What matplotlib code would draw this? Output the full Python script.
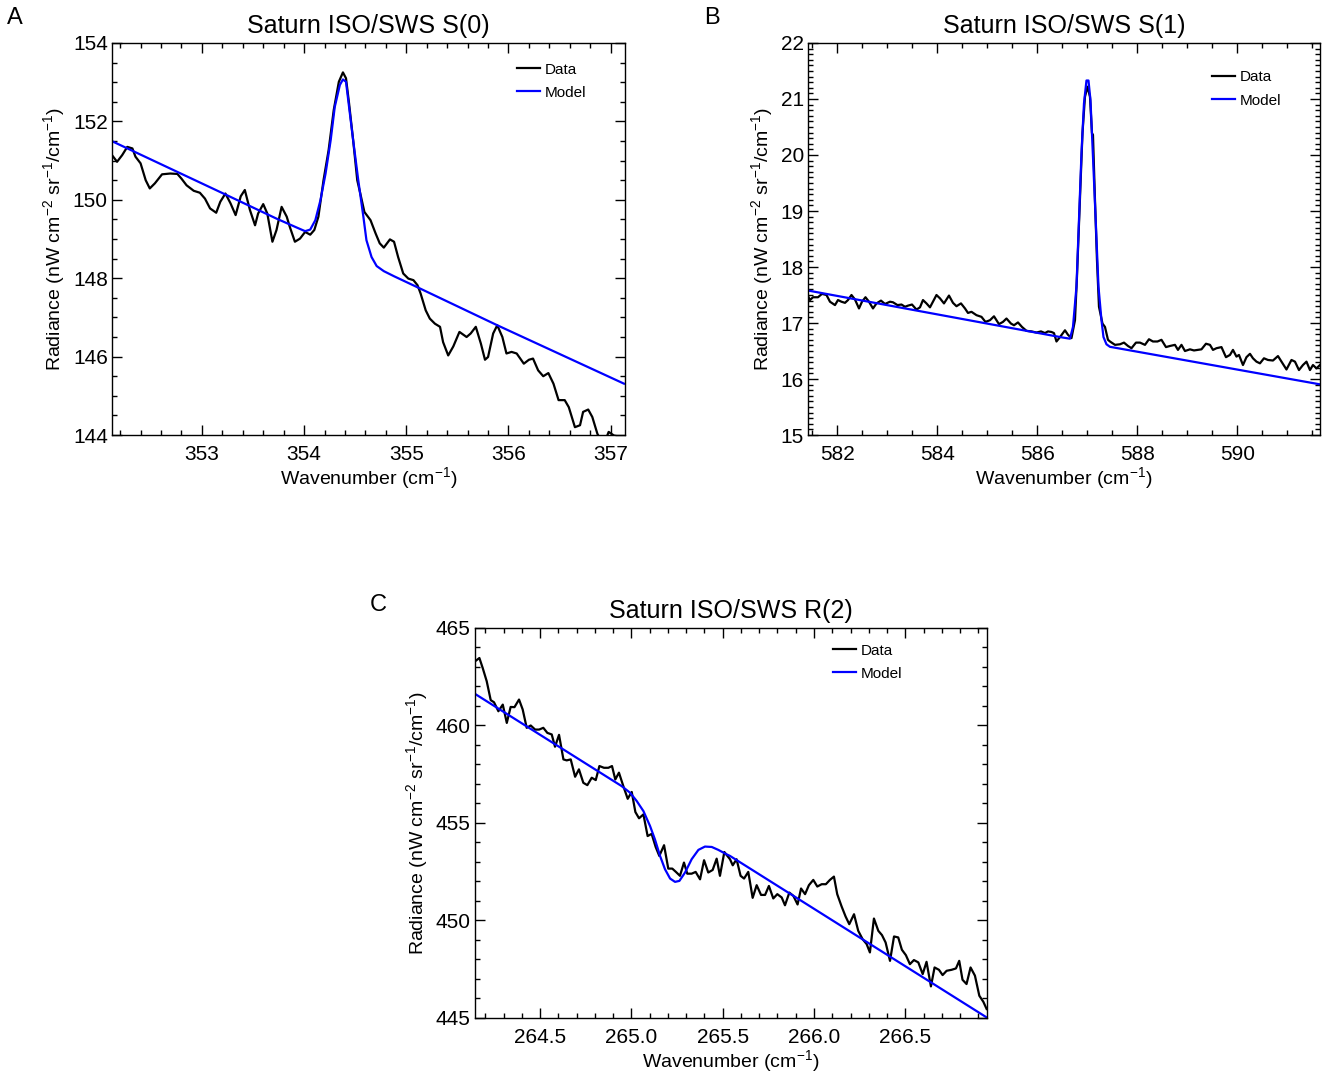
import matplotlib
matplotlib.use("Agg")
import matplotlib.pyplot as plt
from matplotlib.ticker import MultipleLocator, FormatStrFormatter

plt.rcParams['font.family'] = ['Liberation Sans', 'DejaVu Sans']
plt.rcParams['mathtext.fontset'] = 'custom'
plt.rcParams['mathtext.rm'] = 'Liberation Sans'
plt.rcParams['mathtext.it'] = 'Liberation Sans:italic'
plt.rcParams['mathtext.bf'] = 'Liberation Sans:bold'

# ---- Panel A: S(0) ----
a_data_x = [352.12, 352.17, 352.22, 352.27, 352.32, 352.35, 352.40, 352.45, 352.49, 352.54,
            352.61, 352.69, 352.76, 352.80, 352.85, 352.92, 352.98, 353.03, 353.08, 353.14,
            353.18, 353.23, 353.28, 353.33, 353.38, 353.42, 353.47, 353.52, 353.55, 353.60,
            353.64, 353.69, 353.73, 353.78, 353.83, 353.86, 353.91, 353.96, 354.01, 354.06,
            354.10, 354.14, 354.19, 354.24, 354.29, 354.34, 354.38, 354.41, 354.44, 354.48,
            354.52, 354.55, 354.59, 354.65, 354.70, 354.74, 354.78, 354.84, 354.88, 354.92,
            354.97, 355.02, 355.07, 355.11, 355.14, 355.19, 355.23, 355.28, 355.33, 355.36,
            355.41, 355.46, 355.52, 355.59, 355.63, 355.68, 355.73, 355.77, 355.80, 355.85,
            355.89, 355.94, 355.98, 356.03, 356.08, 356.15, 356.20, 356.24, 356.29, 356.34,
            356.39, 356.44, 356.49, 356.55, 356.59, 356.65, 356.70, 356.73, 356.78, 356.82,
            356.87, 356.93, 356.98, 357.03, 357.09, 357.14]
a_data_y = [151.14, 150.97, 151.14, 151.35, 151.31, 151.10, 150.93, 150.50, 150.29, 150.42,
            150.65, 150.67, 150.66, 150.54, 150.37, 150.23, 150.18, 150.03, 149.78, 149.67,
            149.95, 150.16, 149.91, 149.61, 150.09, 150.25, 149.74, 149.35, 149.65, 149.89,
            149.65, 148.93, 149.23, 149.82, 149.57, 149.31, 148.93, 149.01, 149.18, 149.11,
            149.23, 149.57, 150.50, 151.27, 152.29, 153.01, 153.25, 153.10, 152.46, 151.52,
            150.50, 150.16, 149.69, 149.48, 149.14, 148.89, 148.78, 148.99, 148.93, 148.54,
            148.12, 147.99, 147.95, 147.82, 147.61, 147.18, 146.97, 146.84, 146.76, 146.37,
            146.03, 146.26, 146.63, 146.50, 146.59, 146.76, 146.33, 145.92, 145.99, 146.59,
            146.80, 146.50, 146.08, 146.12, 146.08, 145.82, 145.92, 145.95, 145.65, 145.50,
            145.58, 145.31, 144.89, 144.89, 144.71, 144.20, 144.25, 144.59, 144.65, 144.46,
            144.03, 143.74, 144.08, 143.99, 143.95, 143.91]
a_model_x = [352.10, 353.21, 353.73, 353.93, 354.01, 354.06, 354.11, 354.16, 354.21, 354.26,
             354.30, 354.35, 354.38, 354.41, 354.44, 354.48, 354.53, 354.58, 354.61, 354.66,
             354.71, 354.78, 354.88, 355.10, 355.89, 357.13]
a_model_y = [151.52, 150.16, 149.52, 149.29, 149.20, 149.24, 149.48, 149.99, 150.67, 151.52,
             152.37, 152.93, 153.07, 153.01, 152.37, 151.52, 150.50, 149.57, 148.97, 148.54,
             148.31, 148.18, 148.05, 147.78, 146.80, 145.31]

# ---- Panel B: S(1) ----
b_data_x = [581.40, 581.45, 581.51, 581.61, 581.69, 581.78, 581.85, 581.95, 582.01, 582.08,
            582.15, 582.21, 582.28, 582.35, 582.43, 582.49, 582.56, 582.63, 582.71, 582.78,
            582.87, 582.95, 583.05, 583.11, 583.20, 583.28, 583.35, 583.41, 583.49, 583.58,
            583.65, 583.71, 583.78, 583.85, 583.91, 583.98, 584.05, 584.13, 584.23, 584.31,
            584.38, 584.47, 584.55, 584.61, 584.68, 584.78, 584.88, 584.96, 585.05, 585.13,
            585.23, 585.31, 585.38, 585.47, 585.53, 585.61, 585.69, 585.78, 585.88, 585.98,
            586.07, 586.15, 586.21, 586.28, 586.33, 586.38, 586.46, 586.55, 586.61, 586.68,
            586.75, 586.79, 586.85, 586.90, 586.95, 587.00, 587.05, 587.09, 587.11, 587.15,
            587.19, 587.23, 587.30, 587.35, 587.41, 587.45, 587.55, 587.65, 587.73, 587.81,
            587.88, 587.97, 588.05, 588.15, 588.23, 588.31, 588.40, 588.48, 588.57, 588.65,
            588.75, 588.81, 588.88, 588.95, 589.05, 589.13, 589.21, 589.28, 589.37, 589.45,
            589.51, 589.58, 589.68, 589.77, 589.85, 589.91, 589.98, 590.03, 590.11, 590.18,
            590.25, 590.31, 590.38, 590.45, 590.53, 590.61, 590.71, 590.81, 590.88, 590.98,
            591.08, 591.15, 591.23, 591.31, 591.38, 591.45, 591.51, 591.58, 591.65]
b_data_y = [17.50, 17.41, 17.46, 17.46, 17.52, 17.50, 17.38, 17.32, 17.41, 17.38,
            17.36, 17.41, 17.50, 17.42, 17.26, 17.38, 17.46, 17.38, 17.26, 17.35,
            17.40, 17.34, 17.38, 17.37, 17.32, 17.33, 17.29, 17.31, 17.33, 17.24,
            17.28, 17.41, 17.35, 17.28, 17.38, 17.50, 17.44, 17.35, 17.49, 17.36,
            17.30, 17.35, 17.26, 17.18, 17.20, 17.14, 17.11, 17.02, 17.05, 17.12,
            16.98, 17.02, 17.08, 16.99, 16.96, 17.01, 16.93, 16.86, 16.85, 16.83,
            16.85, 16.82, 16.85, 16.84, 16.82, 16.67, 16.76, 16.87, 16.79, 16.73,
            17.05, 17.83, 19.20, 20.39, 21.04, 21.22, 21.04, 20.39, 20.36, 19.20,
            18.12, 17.29, 16.99, 16.93, 16.70, 16.67, 16.61, 16.62, 16.65, 16.59,
            16.55, 16.65, 16.65, 16.61, 16.71, 16.67, 16.67, 16.70, 16.57, 16.59,
            16.61, 16.52, 16.61, 16.50, 16.53, 16.51, 16.52, 16.53, 16.63, 16.61,
            16.52, 16.55, 16.57, 16.39, 16.43, 16.52, 16.40, 16.43, 16.25, 16.39,
            16.45, 16.37, 16.31, 16.28, 16.37, 16.34, 16.33, 16.41, 16.31, 16.17,
            16.34, 16.31, 16.16, 16.25, 16.31, 16.16, 16.25, 16.19, 16.25]
b_model_x = [581.35, 586.51, 586.65, 586.71, 586.78, 586.83, 586.88, 586.93, 586.98, 587.02,
             587.06, 587.11, 587.17, 587.22, 587.28, 587.32, 587.38, 587.45, 591.68]
b_model_y = [17.59, 16.74, 16.72, 16.93, 17.65, 18.84, 20.03, 20.92, 21.33, 21.33,
             20.98, 19.97, 18.72, 17.65, 17.05, 16.75, 16.62, 16.575, 15.90]

# ---- Panel C: R(2) ----
c_data_x = [264.144, 264.168, 264.186, 264.208, 264.230, 264.248, 264.272, 264.296, 264.318, 264.339,
            264.360, 264.385, 264.405, 264.427, 264.449, 264.473, 264.495, 264.518, 264.540, 264.564,
            264.582, 264.604, 264.628, 264.646, 264.668, 264.692, 264.713, 264.737, 264.759, 264.783,
            264.805, 264.825, 264.850, 264.874, 264.894, 264.912, 264.932, 264.956, 264.980, 265.002,
            265.022, 265.042, 265.066, 265.089, 265.111, 265.133, 265.153, 265.179, 265.202, 265.224,
            265.244, 265.266, 265.288, 265.306, 265.330, 265.352, 265.376, 265.398, 265.421, 265.445,
            265.467, 265.485, 265.509, 265.540, 265.555, 265.576, 265.598, 265.617, 265.640, 265.664,
            265.686, 265.710, 265.732, 265.753, 265.777, 265.799, 265.823, 265.841, 265.865, 265.887,
            265.910, 265.929, 265.951, 265.972, 265.996, 266.018, 266.042, 266.065, 266.087, 266.109,
            266.127, 266.151, 266.173, 266.193, 266.219, 266.242, 266.266, 266.288, 266.306, 266.328,
            266.352, 266.372, 266.392, 266.416, 266.438, 266.461, 266.481, 266.503, 266.525, 266.547,
            266.571, 266.595, 266.616, 266.640, 266.660, 266.684, 266.704, 266.726, 266.753, 266.777,
            266.795, 266.813, 266.835, 266.857, 266.881, 266.905, 266.927, 266.945]
c_data_y = [463.29, 463.46, 462.95, 462.27, 461.30, 461.19, 460.73, 461.07, 460.13, 460.95,
            460.94, 461.33, 460.82, 459.88, 460.00, 459.79, 459.79, 459.88, 459.62, 459.54,
            458.91, 459.52, 458.26, 458.21, 458.26, 457.37, 457.75, 457.06, 456.94, 457.32,
            457.20, 457.92, 457.83, 457.83, 457.92, 457.23, 457.58, 456.89, 456.24, 456.59,
            455.56, 455.24, 455.44, 454.33, 454.44, 453.77, 453.31, 453.86, 452.66, 452.66,
            452.49, 452.29, 452.97, 452.40, 452.40, 452.49, 452.11, 453.09, 452.46, 452.59,
            453.17, 452.29, 453.51, 453.14, 452.83, 453.14, 452.29, 452.15, 452.49, 451.16,
            451.81, 451.31, 451.31, 451.77, 451.13, 451.35, 451.18, 450.78, 451.43, 451.26,
            450.82, 451.64, 451.35, 451.81, 452.08, 451.74, 451.86, 451.86, 452.08, 452.25,
            451.35, 450.72, 450.20, 449.81, 450.32, 449.47, 449.04, 448.79, 448.36, 450.10,
            449.47, 449.25, 448.87, 447.93, 449.18, 449.13, 448.50, 448.22, 447.76, 447.97,
            447.85, 447.25, 447.88, 446.62, 447.59, 447.47, 447.20, 447.42, 447.47, 447.54,
            447.93, 446.96, 446.74, 447.59, 447.17, 446.14, 445.83, 445.46]
c_model_x = [264.144, 264.947, 264.993, 265.029, 265.066, 265.102, 265.129, 265.157, 265.184, 265.212,
             265.239, 265.263, 265.294, 265.330, 265.367, 265.403, 265.440, 265.476, 265.522, 265.540,
             266.950]
c_model_y = [461.62, 456.89, 456.55, 456.13, 455.61, 454.85, 454.16, 453.31, 452.63, 452.15,
             451.98, 452.03, 452.46, 453.14, 453.62, 453.79, 453.77, 453.62, 453.39, 453.31,
             445.00]

ylabel = r'Radiance (nW cm$^{-2}$ sr$^{-1}$/cm$^{-1}$)'
xlabel = r'Wavenumber (cm$^{-1}$)'


def draw_panel(ax, dx, dy, mx, my, title, xlim, ylim, xmaj, xmin, ymaj, ymin, leg_anchor, xfmt=None):
    ax.plot(dx, dy, color='black', lw=1.6, solid_joinstyle='round', label='Data')
    ax.plot(mx, my, color='#0000ff', lw=1.6, solid_joinstyle='round', label='Model')
    ax.set_xlim(*xlim)
    ax.set_ylim(*ylim)
    ax.xaxis.set_major_locator(MultipleLocator(xmaj))
    ax.xaxis.set_minor_locator(MultipleLocator(xmin))
    ax.yaxis.set_major_locator(MultipleLocator(ymaj))
    ax.yaxis.set_minor_locator(MultipleLocator(ymin))
    if xfmt:
        ax.xaxis.set_major_formatter(FormatStrFormatter(xfmt))
    ax.tick_params(which='both', direction='in', top=True, right=True, width=1)
    ax.tick_params(which='major', length=7, labelsize=15)
    ax.tick_params(which='minor', length=3.5)
    ax.tick_params(axis='x', which='major', pad=7)
    ax.tick_params(axis='y', which='major', pad=3)
    for s in ax.spines.values():
        s.set_linewidth(1)
    ax.set_title(title, fontsize=18, pad=7)
    ax.set_xlabel(xlabel, fontsize=14, labelpad=1)
    ax.set_ylabel(ylabel, fontsize=14, labelpad=4)
    ax.legend(loc='upper left', bbox_to_anchor=leg_anchor, frameon=False, fontsize=11,
              handlelength=1.5, handletextpad=0.3, labelspacing=0.6,
              borderpad=0, borderaxespad=0)


fig = plt.figure(figsize=(13.25, 10.72), dpi=100)
ax_a = fig.add_axes([0.0845, 0.5942, 0.3872, 0.3657])
ax_b = fig.add_axes([0.6098, 0.5942, 0.3864, 0.3657])
ax_c = fig.add_axes([0.3585, 0.0504, 0.3864, 0.3638])

draw_panel(ax_a, a_data_x, a_data_y, a_model_x, a_model_y, 'Saturn ISO/SWS S(0)',
           (352.12, 357.14), (144, 154), 1, 0.2, 2, 0.5, (0.79, 0.95))
draw_panel(ax_b, b_data_x, b_data_y, b_model_x, b_model_y, 'Saturn ISO/SWS S(1)',
           (581.41, 591.65), (15, 22), 2, 0.5, 1, 0.1, (0.789, 0.93))
draw_panel(ax_c, c_data_x, c_data_y, c_model_x, c_model_y, 'Saturn ISO/SWS R(2)',
           (264.144, 266.947), (445, 465), 0.5, 0.1, 5, 1, (0.70, 0.96), xfmt='%.1f')

fig.text(15 / 1325, 1 - 18 / 1072, 'A', fontsize=17, ha='center', va='center')
fig.text(712 / 1325, 1 - 18 / 1072, 'B', fontsize=17, ha='center', va='center')
fig.text(378 / 1325, 1 - 605 / 1072, 'C', fontsize=17, ha='center', va='center')

fig.savefig('out.png', dpi=100)
